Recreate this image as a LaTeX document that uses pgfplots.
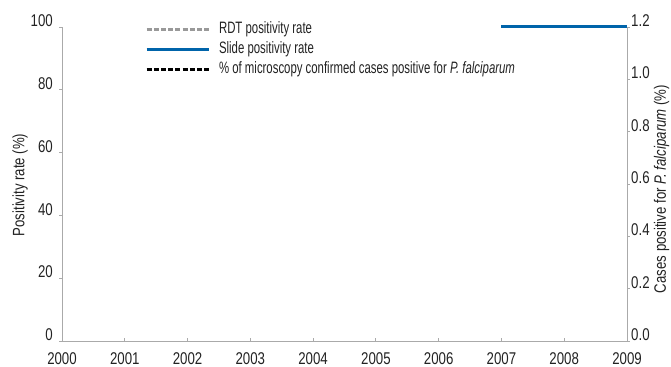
\documentclass[border=0pt]{standalone}
\usepackage{pgfplots}
\pgfplotsset{compat=1.18}
\usepackage{fontspec}
\setmainfont{Liberation Sans}[FakeStretch=0.69]
\newfontfamily\tickfont{Liberation Sans}[FakeStretch=0.78]
\newfontfamily\labfont{Liberation Sans}[FakeStretch=0.80]
\definecolor{axgray}{HTML}{AAAAAA}
\definecolor{slideblue}{HTML}{0064AA}
\definecolor{rdtgray}{HTML}{999999}
\definecolor{txt}{HTML}{222222}
\begin{document}
\fontsize{16.5bp}{19bp}\selectfont
\begin{tikzpicture}
\path[use as bounding box] (-62bp,-26bp) rectangle (609bp,341bp);
\begin{axis}[
  at={(0,0)}, anchor=south west,
  scale only axis, width=565bp, height=314bp,
  xmin=2000, xmax=2009, ymin=0, ymax=100,
  axis y line*=left, axis x line*=bottom,
  axis line style={axgray, line width=0.8bp},
  every tick/.style={axgray, line width=0.8bp},
  tick align=outside, major tick length=3bp,
  x tick style={yshift=3bp},
  xtick={2000,2001,...,2009}, ytick={0,20,...,100},
  /pgf/number format/assume math mode=true,
  tick label style={font=\fontsize{17bp}{19bp}\tickfont, text=txt},
  x tick label style={/pgf/number format/1000 sep={}, anchor=north, inner sep=0pt, yshift=-8.5bp},
  y tick label style={anchor=south east, inner sep=0pt, xshift=-6bp},
  clip=false,
  legend style={at={(axis description cs:0.147,1.019)}, anchor=north west, draw=none, fill=none,
    inner sep=0pt, font=\fontsize{16.5bp}{19bp}\selectfont, text=txt,
    nodes={inner xsep=0pt, inner ysep=0pt, text height=12bp, text depth=4bp},
    row sep=4bp, column sep=9bp},
  legend cell align=left,
  legend image code/.code={\draw[line width=2.8bp, #1] (0bp,0bp) -- (62bp,0bp);},
]
\addlegendimage{rdtgray, line width=2.8bp, dash pattern=on 5bp off 2.2bp}
\addlegendentry{RDT positivity rate}
\addplot[slideblue, line width=3bp] coordinates {(2007,100) (2009,100)};
\addlegendentry{Slide positivity rate}
\addlegendimage{black, line width=2.8bp, dash pattern=on 5bp off 2.2bp}
\addlegendentry{\% of microscopy confirmed cases positive for \textit{P. falciparum}}
\end{axis}
\begin{axis}[
  at={(0,0)}, anchor=south west,
  scale only axis, width=565bp, height=314bp,
  xmin=2000, xmax=2009, ymin=0, ymax=1.2,
  axis y line*=right, axis x line=none,
  axis line style={axgray, line width=0.8bp},
  every tick/.style={axgray, line width=0.8bp},
  tick align=outside, major tick length=3bp,
  ytick={0,0.2,0.4,0.6,0.8,1.0,1.2},
  /pgf/number format/assume math mode=true,
  tick label style={font=\fontsize{17bp}{19bp}\tickfont, text=txt},
  y tick label style={anchor=south west, inner sep=0pt, xshift=1bp,
    /pgf/number format/fixed, /pgf/number format/fixed zerofill, /pgf/number format/precision=1},
]
\end{axis}
\node[rotate=90, text=txt, font=\fontsize{16.5bp}{19bp}\labfont] at (-42bp,156bp) {Positivity rate (\%)};
\node[rotate=90, text=txt, font=\fontsize{16.5bp}{19bp}\labfont] at (599.5bp,152bp) {Cases positive for \textit{P. falciparum} (\%)};
\end{tikzpicture}
\end{document}
